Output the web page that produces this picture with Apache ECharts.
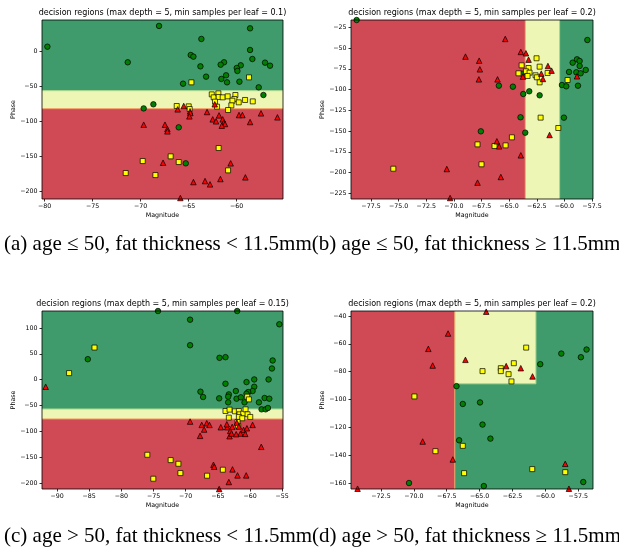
<!DOCTYPE html>
<html>
<head>
<meta charset="utf-8">
<script src="https://cdn.jsdelivr.net/npm/echarts@6/dist/echarts.min.js"></script>
<style>
  html, body { margin: 0; padding: 0; background: #fff; }
  #chart { width: 619px; height: 548px; }
</style>
</head>
<body>
<div id="chart"></div>
<script>

// region rows: [xFrom, xTo, yFrom, yTo, class]  class 0 = red, 1 = yellow, 2 = green
// edge rows: [x0, y0, x1, y1, kind]  kind 0 = orange edge, 1 = light green edge

// (a) age <= 50, fat thickness < 11.5mm
let aXTicks = [-80, -75, -70, -65, -60];
let aYTicks = [0, -50, -100, -150, -200];
let aXRange = [-80.28, -55.18];
let aYRange = [-210.4, 45.2];
let aRegions = [
  [-80.28, -55.18, -55.7, 45.2, 2],
  [-80.28, -55.18, -81.4, -55.7, 1],
  [-80.28, -55.18, -210.4, -81.4, 0]
];
let aEdges = [
  [-80.28, -55.7, -55.18, -55.7, 1],
  [-80.28, -81.4, -55.18, -81.4, 0]
];
let aGreen = [
  [-79.72, 7.1], [-67.78, 46.2], [-68.09, 36.7], [-63.68, 18.1], [-58.61, 33.3], [-58.61, 2.4],
  [-58.37, -10.5], [-71.35, -15.2], [-64.79, -4.8], [-64.51, -7.1], [-63.78, -21], [-61.32, -15.2],
  [-61.67, -18.6], [-59.58, -19.5], [-60, -23.3], [-59.93, -27.6], [-57.05, -15.7], [-56.53, -20],
  [-63.19, -35.7], [-61.6, -39], [-61.11, -33.8], [-61.01, -43.8], [-59.72, -42.9], [-65.59, -45.7],
  [-57.71, -51], [-57.22, -61.9], [-69.69, -81], [-68.68, -75.2], [-66.04, -108.1], [-65.31, -159.5]
];
let aYellow = [
  [-64.72, -43.8], [-58.72, -36.7], [-62.6, -61], [-62.4, -65.2], [-61.91, -59.5], [-61.88, -64.8],
  [-61.46, -65.2], [-60.94, -63.8], [-60.14, -61.9], [-60.24, -67.6], [-60.45, -70], [-59.79, -72.4],
  [-59.13, -69], [-58.33, -71], [-62.26, -71.4], [-62.05, -78.6], [-60.56, -76.7], [-60.9, -83.3],
  [-66.25, -77.6], [-65.0, -78.1], [-64.9, -81.9], [-61.88, -137.6], [-66.88, -149.5], [-69.79, -156.2],
  [-66.04, -157.6], [-71.56, -173.3], [-68.47, -176.2], [-60.9, -169.5]
];
let aRed = [
  [-62.29, -75.2], [-65.52, -77.6], [-66.15, -82.4], [-64.86, -85.2], [-64.83, -87.6], [-64.93, -92.4],
  [-63.09, -86.2], [-61.84, -91], [-62.5, -96.7], [-62.15, -99.5], [-61.46, -96.7], [-61.35, -101.4],
  [-61.22, -103.3], [-61.56, -105.7], [-59.76, -90.5], [-59.41, -90.5], [-58.61, -100.5], [-57.47, -88.1],
  [-55.76, -93.8], [-69.69, -104.3], [-67.47, -104.3], [-67.22, -110.5], [-67.22, -113.8], [-67.67, -158.6],
  [-60.63, -159.5], [-64.51, -186.2], [-63.3, -184.8], [-62.78, -189.5], [-61.7, -181.9], [-59.1, -179.5],
  [-65.87, -209]
];

// (b) age <= 50, fat thickness >= 11.5mm
let bXTicks = [-77.5, -75, -72.5, -70, -67.5, -65, -62.5, -60, -57.5];
let bYTicks = [-25, -50, -75, -100, -125, -150, -175, -200, -225];
let bXRange = [-79.31, -57.41];
let bYRange = [-231.8, -16.2];
let bRegions = [
  [-79.31, -63.54, -231.8, -16.2, 0],
  [-63.54, -60.43, -231.8, -16.2, 1],
  [-60.43, -57.41, -231.8, -16.2, 2]
];
let bEdges = [
  [-63.54, -231.8, -63.54, -16.2, 0],
  [-60.43, -231.8, -60.43, -16.2, 1]
];
let bGreen = [
  [-78.8, -16.2], [-57.92, -40.3], [-58.07, -76.4], [-58.86, -63.6], [-58.62, -65.6], [-59.25, -67.6],
  [-59.58, -78.8], [-58.92, -79.2], [-58.62, -71.6], [-58.53, -80.4], [-60.22, -94.5], [-59.83, -96.1],
  [-58.77, -95.3], [-60.04, -133.8], [-63.84, -80.8], [-65.93, -95.3], [-64.66, -96.5], [-63.18, -102.1],
  [-63.72, -105.3], [-62.24, -106.9], [-63.97, -133.4], [-67.56, -150.3], [-63.54, -151.9]
];
let bYellow = [
  [-62.52, -62.3], [-63.87, -70.8], [-62.24, -72.4], [-63.24, -74], [-63.48, -78], [-63.15, -79.6],
  [-64.15, -80.4], [-61.52, -80], [-62.61, -82.8], [-63.33, -83.6], [-62.49, -85.2], [-62.24, -91.3],
  [-59.71, -88.5], [-62.15, -133.8], [-60.55, -146.3], [-64.75, -157.5], [-67.86, -166], [-66.32, -168],
  [-65.32, -167.2], [-67.5, -190], [-75.48, -195.3]
];
let bRed = [
  [-65.35, -39], [-63.94, -54.7], [-63.48, -56.3], [-63.24, -64], [-68.95, -60.3], [-67.71, -65.2],
  [-67.65, -75.6], [-67.74, -87.7], [-66.05, -87.7], [-61.49, -71.6], [-61.16, -77.2], [-62.09, -80.8],
  [-61.94, -87.2], [-63.75, -84.4], [-58.86, -84], [-61.34, -154.7], [-66.11, -162.3], [-65.9, -168.4],
  [-63.94, -179.2], [-70.64, -195.7], [-67.86, -212.1], [-65.75, -205.3], [-70.34, -230.6]
];

// (c) age > 50, fat thickness < 11.5mm
let cXTicks = [-90, -85, -80, -75, -70, -65, -60, -55];
let cYTicks = [100, 50, 0, -50, -100, -150, -200];
let cXRange = [-92.34, -54.88];
let cYRange = [-211.5, 132.8];
let cRegions = [
  [-92.34, -54.88, -56.7, 132.8, 2],
  [-92.34, -54.88, -76, -56.7, 1],
  [-92.34, -54.88, -211.5, -76, 0]
];
let cEdges = [
  [-92.34, -56.7, -54.88, -56.7, 1],
  [-92.34, -76, -54.88, -76, 0]
];
let cGreen = [
  [-74.31, 132.8], [-62, 132.8], [-69.32, 116], [-55.45, 107.1], [-69.32, 66.6], [-85.22, 39.6],
  [-64.75, 42.2], [-63.82, 43.5], [-56.49, 37.1], [-56.6, 21.6], [-63.82, -7.9], [-60.55, -4.7],
  [-59.35, 0.4], [-57.12, 0.4], [-59.35, -13.7], [-59.61, -22], [-60.29, -24], [-60.55, -27.2],
  [-67.71, -23.3], [-67.3, -33.6], [-63.3, -28.5], [-63.4, -32.9], [-62.21, -22], [-62.1, -36.8],
  [-61.43, -34.2], [-64.8, -36.2], [-63.4, -43.9], [-60.86, -43.9], [-58.62, -43.9], [-57.74, -35.5],
  [-57.01, -36.8], [-58.21, -57.4], [-57.58, -57.4], [-57.22, -54.8]
];
let cYellow = [
  [-84.18, 62.1], [-88.13, 12.7], [-60.44, -32.9], [-60.18, -38.1], [-63.82, -60.6], [-63.19, -58],
  [-62.36, -61.2], [-61.74, -60.6], [-61.64, -67], [-61.06, -65.7], [-60.7, -57.4], [-60.39, -67],
  [-61.74, -72.1], [-61.22, -74.7], [-59.97, -72.1], [-63.3, -73.4], [-61.95, -81.8], [-61.84, -89.5],
  [-75.97, -145.3], [-72.34, -155.6], [-71.14, -162.7], [-70.83, -180.7], [-75.04, -191.6], [-64.23, -174.2],
  [-66.68, -185.8]
];
let cRed = [
  [-91.77, -13.7], [-69.32, -81.1], [-67.51, -87.5], [-67.77, -108.7], [-67.14, -96.5], [-66.73, -84.3],
  [-66.31, -87.5], [-64.55, -92], [-63.56, -92], [-63.61, -86.3], [-63.09, -99.1], [-62.78, -91.4],
  [-63.19, -109.4], [-62.88, -104.2], [-62.05, -83], [-61.74, -90.7], [-61.48, -104.2], [-61.01, -97.2],
  [-60.75, -104.9], [-62.16, -105.5], [-60.49, -94], [-59.61, -87.5], [-58.26, -129.9], [-65.69, -164.6],
  [-65.58, -168.5], [-62.73, -173.6], [-61.95, -185.2], [-60.6, -185.2], [-63.3, -198], [-64.8, -211.5]
];

// (d) age > 50, fat thickness >= 11.5mm
let dXTicks = [-72.5, -70, -67.5, -65, -62.5, -60, -57.5];
let dYTicks = [-40, -60, -80, -100, -120, -140, -160];
let dXRange = [-74.78, -56.38];
let dYRange = [-164.3, -36.4];
let dRegions = [
  [-74.78, -66.89, -164.3, -36.4, 0],
  [-66.89, -56.38, -164.3, -36.4, 2],
  [-66.89, -60.72, -88.7, -36.4, 1]
];
let dEdges = [
  [-66.89, -164.3, -66.89, -36.4, 0],
  [-66.89, -88.7, -60.72, -88.7, 1],
  [-60.72, -88.7, -60.72, -36.4, 1]
];
let dGreen = [
  [-58.79, -67], [-60.39, -74.6], [-57.3, -69.6], [-56.87, -64.1], [-66.76, -90.4], [-66.28, -103.2],
  [-64.97, -102.1], [-64.78, -118], [-64.18, -128.1], [-66.56, -129.3], [-70.37, -160], [-64.68, -162.2],
  [-57.12, -159.3]
];
let dYellow = [
  [-61.46, -62.7], [-62.4, -73.9], [-63.39, -77.5], [-63.39, -79.6], [-64.78, -79.6], [-62.8, -81.8],
  [-62.58, -87], [-69.96, -97.8], [-68.36, -137.1], [-66.28, -133.3], [-66.18, -152.9], [-61.0, -150],
  [-58.49, -152.2]
];
let dRed = [
  [-64.5, -36.9], [-67.4, -52.6], [-68.9, -63.6], [-68.57, -75.6], [-66.08, -71.5], [-62.98, -76],
  [-61.87, -77.5], [-60.98, -83.4], [-69.33, -130.2], [-67.04, -143.1], [-74.28, -164.1], [-58.49, -146.2],
  [-58.21, -164.1]
];

let titles = [
  'decision regions (max depth = 5, min samples per leaf = 0.1)',
  'decision regions (max depth = 5, min samples per leaf = 0.2)',
  'decision regions (max depth = 5, min samples per leaf = 0.15)',
  'decision regions (max depth = 5, min samples per leaf = 0.2)'
];
let captionTop = '(a) age \u2264 50, fat thickness < 11.5mm(b) age \u2264 50, fat thickness \u2265 11.5mm';
let captionBottom = '(c) age > 50, fat thickness < 11.5mm(d) age > 50, fat thickness \u2265 11.5mm';

let regionColors = ['#d04a55', '#eef6b5', '#3f9b6b'];
let edgeColors = ['#f2a062', '#a9d68c'];

let panels = [
  { xTicks: aXTicks, yTicks: aYTicks, xRange: aXRange, yRange: aYRange, regions: aRegions, edges: aEdges, green: aGreen, yellow: aYellow, red: aRed, decimals: 0 },
  { xTicks: bXTicks, yTicks: bYTicks, xRange: bXRange, yRange: bYRange, regions: bRegions, edges: bEdges, green: bGreen, yellow: bYellow, red: bRed, decimals: 1 },
  { xTicks: cXTicks, yTicks: cYTicks, xRange: cXRange, yRange: cYRange, regions: cRegions, edges: cEdges, green: cGreen, yellow: cYellow, red: cRed, decimals: 0 },
  { xTicks: dXTicks, yTicks: dYTicks, xRange: dXRange, yRange: dYRange, regions: dRegions, edges: dEdges, green: dGreen, yellow: dYellow, red: dRed, decimals: 1 }
];

// plot boxes [left, top, width, height]
let boxes = [
  [42, 20, 241, 179],
  [351, 20, 242, 179],
  [42, 311, 241, 178],
  [351, 311, 242, 178]
];

let plotFont = 'DejaVu Sans';
let tickSize = 6.3;

function minusSign(text) {
  return text.replace('-', '\u2212');
}

function renderRegion(params, api) {
  let p0 = api.coord([api.value(0), api.value(3)]);
  let p1 = api.coord([api.value(1), api.value(2)]);
  return {
    type: 'rect',
    shape: { x: p0[0], y: p0[1], width: p1[0] - p0[0], height: p1[1] - p0[1] },
    style: { fill: regionColors[api.value(4)] }
  };
}

function renderEdge(params, api) {
  let p0 = api.coord([api.value(0), api.value(1)]);
  let p1 = api.coord([api.value(2), api.value(3)]);
  return {
    type: 'line',
    shape: { x1: p0[0], y1: p0[1], x2: p1[0], y2: p1[1] },
    style: { stroke: edgeColors[api.value(4)], lineWidth: 1 }
  };
}

let chart = echarts.init(document.getElementById('chart'), null, { renderer: 'canvas' });

let grids = boxes.map(b => ({
  left: b[0], top: b[1], width: b[2], height: b[3],
  show: true, borderColor: '#000', borderWidth: 0.8,
  backgroundColor: 'transparent', z: 10
}));

let xAxes = panels.map((p, i) => ({
  gridIndex: i,
  type: 'value',
  min: p.xRange[0],
  max: p.xRange[1],
  name: 'Magnitude',
  nameLocation: 'middle',
  nameGap: 13.5,
  nameTextStyle: { fontFamily: plotFont, fontSize: tickSize, color: '#000' },
  splitLine: { show: false },
  axisLine: { show: false, onZero: false },
  axisTick: { show: true, length: 2.5, customValues: p.xTicks, lineStyle: { color: '#000', width: 0.8 } },
  axisLabel: {
    customValues: p.xTicks,
    margin: 4.5,
    fontFamily: plotFont,
    fontSize: tickSize,
    color: '#000',
    formatter: v => minusSign(v.toFixed(p.decimals))
  }
}));

let yAxes = panels.map((p, i) => ({
  gridIndex: i,
  type: 'value',
  min: p.yRange[0],
  max: p.yRange[1],
  name: 'Phase',
  nameLocation: 'middle',
  nameRotate: 90,
  nameGap: 26,
  nameTextStyle: { fontFamily: plotFont, fontSize: tickSize, color: '#000' },
  splitLine: { show: false },
  axisLine: { show: false, onZero: false },
  axisTick: { show: true, length: 2.5, customValues: p.yTicks, lineStyle: { color: '#000', width: 0.8 } },
  axisLabel: {
    customValues: p.yTicks,
    margin: 4.5,
    fontFamily: plotFont,
    fontSize: tickSize,
    color: '#000',
    formatter: v => minusSign(String(Math.round(v)))
  }
}));

let series = [];

panels.forEach((p, i) => {

  series.push({
    type: 'custom',
    xAxisIndex: i,
    yAxisIndex: i,
    renderItem: renderRegion,
    data: p.regions,
    clip: true,
    silent: true,
    z: 1
  });

  series.push({
    type: 'custom',
    xAxisIndex: i,
    yAxisIndex: i,
    renderItem: renderEdge,
    data: p.edges,
    clip: true,
    silent: true,
    z: 2
  });

  series.push({
    type: 'scatter',
    xAxisIndex: i,
    yAxisIndex: i,
    data: p.green,
    symbol: 'circle',
    symbolSize: 5.5,
    itemStyle: { color: '#008000', borderColor: '#000', borderWidth: 0.7, opacity: 1 },
    z: 3
  });

  series.push({
    type: 'scatter',
    xAxisIndex: i,
    yAxisIndex: i,
    data: p.yellow,
    symbol: 'rect',
    symbolSize: 5,
    itemStyle: { color: '#ffff00', borderColor: '#000', borderWidth: 0.7, opacity: 1 },
    z: 4
  });

  series.push({
    type: 'scatter',
    xAxisIndex: i,
    yAxisIndex: i,
    data: p.red,
    symbol: 'triangle',
    symbolSize: 5.5,
    itemStyle: { color: '#ff0000', borderColor: '#000', borderWidth: 0.7, opacity: 1 },
    z: 5
  });

});

let graphics = boxes.map((b, i) => ({
  type: 'text',
  x: b[0] + b[2] / 2,
  y: b[1] - 7.5,
  style: {
    text: titles[i],
    font: '8px "DejaVu Sans"',
    fill: '#000',
    textAlign: 'center',
    textVerticalAlign: 'middle'
  }
}));

graphics.push({
  type: 'text',
  x: 4,
  y: 244,
  style: { text: captionTop, font: '21px "Liberation Serif"', fill: '#000', textAlign: 'left', textVerticalAlign: 'middle' }
});

graphics.push({
  type: 'text',
  x: 4,
  y: 536,
  style: { text: captionBottom, font: '21px "Liberation Serif"', fill: '#000', textAlign: 'left', textVerticalAlign: 'middle' }
});

let option = {
  animation: false,
  backgroundColor: '#fff',
  grid: grids,
  xAxis: xAxes,
  yAxis: yAxes,
  series: series,
  graphic: graphics
};

chart.setOption(option);

</script>
</body>
</html>
